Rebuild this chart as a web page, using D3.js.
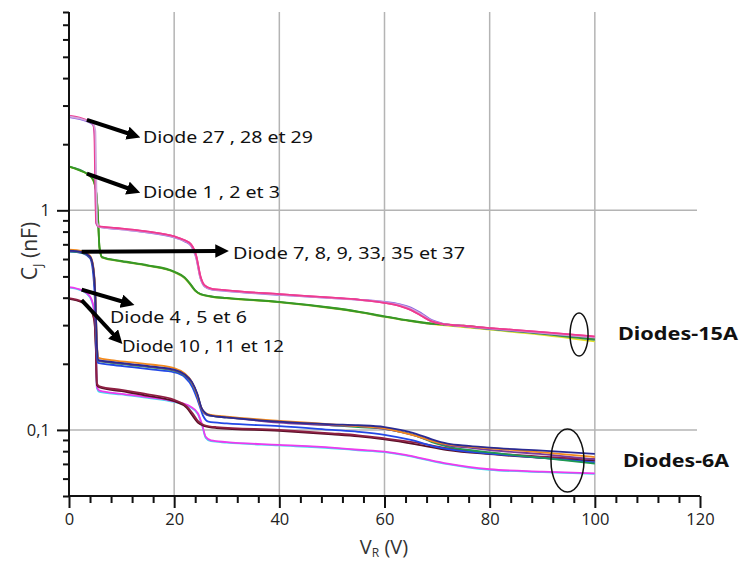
<!DOCTYPE html>
<html><head><meta charset="utf-8">
<script src="https://cdn.jsdelivr.net/npm/d3@7"></script>
<style>
html,body{margin:0;padding:0;background:#fff;}
svg{display:block;}
</style></head>
<body>
<svg id="chart" width="740" height="564"></svg>
<script>
// ---------- DATA (V_R in volts, C_J in nF) ----------
const xTicks = [0, 20, 40, 60, 80, 100, 120];
const yLabelTicks = [1, 0.1];
const yTickText = ["1", "0,1"];

// Diodes-15A
const d27 = [[0,2.70],[2,2.64],[3.6,2.56],[4.5,2.50],[4.8,2.3],[5.0,1.3],[5.15,0.88],[5.6,0.845],[10,0.825],[15,0.80],[20,0.76],[22,0.73],[23.2,0.70],[24.2,0.62],[25,0.50],[25.8,0.455],[27,0.44],[30,0.432],[40,0.415],[50,0.40],[55,0.392],[60,0.379],[63,0.366],[65,0.352],[67,0.331],[69,0.312],[71,0.304],[75,0.298],[80,0.291],[90,0.279],[100,0.266]];
const d28 = [[0,2.68],[2,2.62],[3.6,2.55],[4.6,2.48],[5.0,2.3],[5.2,1.3],[5.35,0.88],[5.8,0.84],[10,0.82],[15,0.795],[20,0.755],[22,0.725],[23.2,0.695],[24.2,0.61],[25,0.49],[25.8,0.452],[27,0.438],[30,0.43],[40,0.413],[50,0.398],[55,0.391],[60,0.381],[63,0.37],[65,0.357],[67,0.336],[69,0.314],[71,0.304],[75,0.297],[80,0.29],[90,0.277],[100,0.264]];
const d29 = [[0,2.66],[3.6,2.53],[4.6,2.45],[4.9,2.2],[5.05,1.2],[5.2,0.87],[5.7,0.84],[10,0.818],[15,0.792],[20,0.752],[22,0.722],[23.2,0.69],[24.2,0.605],[25,0.49],[25.8,0.45],[27,0.437],[30,0.429],[40,0.412],[50,0.398],[55,0.392],[60,0.383],[63,0.373],[65,0.361],[67,0.34],[69,0.316],[71,0.305],[75,0.297],[80,0.289],[90,0.276],[100,0.263]];
const d1 = [[0,1.585],[2,1.52],[3.6,1.46],[4.6,1.38],[5.2,1.2],[5.5,0.95],[5.8,0.68],[6.3,0.613],[10,0.588],[15,0.562],[20,0.526],[22,0.495],[23,0.465],[24,0.432],[25,0.416],[27,0.406],[30,0.399],[40,0.383],[50,0.36],[55,0.346],[60,0.329],[64,0.317],[68,0.307],[71,0.303],[75,0.298],[80,0.29],[90,0.276],[100,0.26]];
const d2 = [[0,1.575],[3.6,1.45],[4.6,1.37],[5.2,1.19],[5.5,0.94],[5.8,0.67],[6.3,0.608],[10,0.584],[15,0.558],[20,0.522],[22,0.49],[23,0.46],[24,0.43],[25,0.414],[27,0.404],[30,0.397],[40,0.381],[50,0.358],[55,0.344],[60,0.327],[64,0.315],[68,0.305],[71,0.3],[75,0.294],[80,0.286],[90,0.271],[100,0.253]];
const d3s = [[0,1.58],[3.6,1.455],[4.6,1.375],[5.2,1.19],[5.5,0.94],[5.8,0.675],[6.3,0.61],[10,0.586],[15,0.56],[20,0.524],[22,0.492],[23,0.462],[24,0.431],[25,0.415],[27,0.405],[30,0.398],[40,0.382],[50,0.359],[55,0.345],[60,0.328],[64,0.316],[68,0.306],[71,0.302],[75,0.296],[80,0.288],[90,0.274],[100,0.257]];

// Diodes-6A
const d7 = [[0,0.662],[2.5,0.652],[4,0.62],[4.6,0.56],[5.0,0.42],[5.3,0.25],[5.6,0.213],[8,0.208],[12,0.203],[16,0.198],[20,0.191],[22,0.181],[23.2,0.168],[24.2,0.149],[25,0.129],[25.8,0.12],[27,0.117],[30,0.115],[40,0.11],[50,0.106],[55,0.104],[60,0.1015],[63,0.098],[66,0.094],[69,0.089],[72,0.086],[76,0.084],[80,0.0825],[90,0.079],[100,0.0752]];
const d8 = [[0,0.655],[2.5,0.645],[4,0.615],[4.6,0.55],[5.0,0.41],[5.3,0.245],[5.6,0.208],[8,0.204],[12,0.199],[16,0.194],[20,0.188],[22,0.179],[23.4,0.165],[24.4,0.146],[25.2,0.126],[26,0.119],[27,0.116],[30,0.114],[40,0.109],[50,0.106],[55,0.105],[60,0.103],[63,0.1],[66,0.096],[69,0.0905],[72,0.0865],[76,0.0845],[80,0.083],[90,0.0805],[100,0.0778]];
const d9 = [[0,0.65],[2.5,0.64],[4,0.61],[4.6,0.545],[5.0,0.41],[5.3,0.245],[5.6,0.206],[8,0.202],[12,0.197],[16,0.192],[20,0.186],[22,0.177],[23.4,0.163],[24.4,0.144],[25.2,0.125],[26,0.118],[27,0.116],[30,0.114],[40,0.109],[50,0.105],[55,0.103],[60,0.1012],[63,0.098],[66,0.094],[69,0.088],[72,0.084],[76,0.081],[80,0.079],[90,0.0745],[100,0.0702]];
const d33 = [[0,0.648],[2.5,0.638],[4,0.605],[4.5,0.54],[4.9,0.4],[5.2,0.24],[5.5,0.202],[8,0.198],[12,0.193],[16,0.188],[20,0.183],[22,0.174],[23.5,0.156],[24.5,0.136],[25.5,0.116],[26.5,0.109],[30,0.107],[40,0.104],[50,0.1],[55,0.098],[60,0.095],[65,0.09],[70,0.0835],[75,0.08],[80,0.078],[90,0.0745],[100,0.0712]];
const d35 = [[0,0.653],[2.5,0.643],[4,0.612],[4.6,0.55],[5.0,0.41],[5.3,0.245],[5.6,0.207],[8,0.203],[12,0.198],[16,0.193],[20,0.187],[22,0.178],[23.4,0.164],[24.4,0.145],[25.2,0.125],[26,0.118],[27,0.116],[30,0.114],[40,0.108],[50,0.105],[55,0.104],[60,0.101],[63,0.098],[66,0.094],[69,0.089],[72,0.085],[76,0.083],[80,0.081],[90,0.0775],[100,0.0735]];
const d4 = [[0,0.447],[2.5,0.432],[4,0.405],[4.8,0.35],[5.1,0.25],[5.3,0.157],[5.8,0.151],[10,0.146],[15,0.141],[20,0.135],[23,0.128],[24.5,0.119],[25.3,0.106],[26,0.093],[27,0.0895],[30,0.088],[40,0.0855],[50,0.083],[55,0.0812],[60,0.0796],[64,0.077],[68,0.0734],[72,0.0702],[76,0.0678],[80,0.0662],[90,0.0646],[100,0.0634]];
const d5 = [[0,0.445],[2.5,0.43],[4,0.402],[4.8,0.345],[5.1,0.245],[5.3,0.155],[5.8,0.149],[10,0.145],[15,0.14],[20,0.134],[23,0.127],[24.5,0.118],[25.3,0.105],[26,0.092],[27,0.0888],[30,0.0875],[40,0.085],[50,0.0825],[55,0.0808],[60,0.0792],[64,0.0766],[68,0.073],[72,0.0698],[76,0.0674],[80,0.0658],[90,0.0642],[100,0.063]];
const d10 = [[0,0.398],[2.5,0.384],[4,0.36],[4.8,0.32],[5.1,0.24],[5.3,0.163],[5.8,0.158],[10,0.152],[15,0.145],[20,0.137],[22.4,0.128],[23.5,0.119],[24.5,0.11],[25.8,0.105],[28,0.103],[40,0.1],[50,0.0965],[55,0.0945],[60,0.0915],[66,0.0875],[72,0.0825],[80,0.0785],[90,0.0755],[100,0.0735]];
const d11 = [[0,0.395],[2.5,0.38],[4,0.356],[4.8,0.315],[5.1,0.235],[5.3,0.16],[5.8,0.156],[10,0.15],[15,0.143],[20,0.135],[22.4,0.126],[23.5,0.116],[24.5,0.108],[25.8,0.104],[28,0.102],[40,0.099],[50,0.0955],[55,0.0935],[60,0.0905],[66,0.086],[72,0.081],[80,0.0775],[90,0.0745],[100,0.0722]];

// ---------- STYLES ----------
const series = [
  {data: d2, color: "#e6e22a"},
  {data: d3s, color: "#2f8a6a"},
  {data: d1, color: "#3a9a1e"},
  {data: d29, color: "#8a62e0"},
  {data: d27, color: "#ee3a90"},
  {data: d28, color: "#d2a6dc"},
  {data: d5, color: "#40dff0"},
  {data: d4, color: "#ee3aee"},
  {data: d11, color: "#5a1028"},
  {data: d10, color: "#8e1f42"},
  {data: d33, color: "#2348e6"},
  {data: d9, color: "#1e9a52"},
  {data: d35, color: "#7a3a9a"},
  {data: d7, color: "#f28a1e"},
  {data: d8, color: "#2a2a92"}
];

const svg = d3.select("#chart");
const x = d3.scaleLinear().domain([0, 120]).range([69, 700]);
const y = d3.scaleLog().domain([0.05, 8]).range([496, 12]);

// grid
const grid = svg.append("g");
grid.selectAll("line.v").data([20, 40, 60, 80, 100]).join("line")
  .attr("x1", d => x(d)).attr("x2", d => x(d))
  .attr("y1", y(8)).attr("y2", y(0.05))
  .attr("stroke", "#b4b4b4").attr("stroke-width", 1.5);
grid.selectAll("line.h").data(yLabelTicks).join("line")
  .attr("x1", x(0)).attr("x2", 697)
  .attr("y1", d => y(d)).attr("y2", d => y(d))
  .attr("stroke", "#b4b4b4").attr("stroke-width", 1.5);

// curves
const line = d3.line().x(d => x(d[0])).y(d => y(d[1])).curve(d3.curveMonotoneX);
svg.append("g").selectAll("path").data(series).join("path")
  .attr("d", d => line(d.data))
  .attr("fill", "none").attr("stroke", d => d.color).attr("stroke-width", 1.8)
  .attr("stroke-linejoin", "round");
// pink over lavender except the vertical drop
svg.append("path").attr("d", line(d27.filter(p => p[0] >= 5.6)))
  .attr("fill", "none").attr("stroke", "#ee3a90").attr("stroke-width", 1.8);

// axes
const fontTick = "'Open Sans', 'Noto Sans', sans-serif";
const minorY = [];
for (const dec of [0.01, 0.1, 1]) for (let k = 1; k <= 9; k++) { const v = +(k * dec).toPrecision(3); if (v >= 0.05 && v <= 8 && v !== 1 && v !== 0.1) minorY.push(v); }
const yMinor = svg.append("g").attr("transform", `translate(${x(0)},0)`)
  .call(d3.axisLeft(y).tickValues(minorY).tickSize(6).tickFormat(""));
const yMajor = svg.append("g").attr("transform", `translate(${x(0)},0)`)
  .call(d3.axisLeft(y).tickValues(yLabelTicks).tickSize(12).tickPadding(7)
    .tickFormat((d, i) => yTickText[i]));
const xMinor = d3.range(0, 121, 4).filter(v => v % 20 !== 0);
const xMin = svg.append("g").attr("transform", `translate(0,${y(0.05)})`)
  .call(d3.axisBottom(x).tickValues(xMinor).tickSize(7).tickFormat(""));
const xMaj = svg.append("g").attr("transform", `translate(0,${y(0.05)})`)
  .call(d3.axisBottom(x).tickValues(xTicks).tickSize(12).tickPadding(5).tickFormat(d3.format("d")));
[yMinor, yMajor, xMin, xMaj].forEach(g => {
  g.select(".domain").attr("stroke", "#111").attr("stroke-width", 2);
  g.selectAll(".tick line").attr("stroke", "#111").attr("stroke-width", 2);
  g.selectAll("text").attr("font-family", fontTick).attr("font-size", 16.5).attr("fill", "#222");
});
yMinor.select(".domain").attr("d", `M0,${y(8)}V${y(0.05)}`);
yMajor.select(".domain").remove();
xMin.select(".domain").attr("d", `M${x(0)},0H${x(120)}`);
xMaj.select(".domain").remove();

// axis titles
const yt = svg.append("text").attr("transform", "translate(37,251) rotate(-90)")
  .attr("text-anchor", "middle").attr("font-family", fontTick).attr("font-size", 21).attr("fill", "#333");
yt.append("tspan").text("C");
yt.append("tspan").attr("font-size", 13).attr("dy", 5).text("J");
yt.append("tspan").attr("dy", -5).text(" (nF)");
const xt = svg.append("text").attr("x", 384).attr("y", 554)
  .attr("text-anchor", "middle").attr("font-family", fontTick).attr("font-size", 20).attr("fill", "#333");
xt.append("tspan").text("V");
xt.append("tspan").attr("font-size", 12).attr("dy", 3).text("R");
xt.append("tspan").attr("dy", -3).text(" (V)");

// annotations
const annFont = "'Noto Sans', 'Open Sans', sans-serif";
const defs = svg.append("defs");
defs.append("marker").attr("id", "ah").attr("viewBox", "0 0 10 10").attr("refX", 2).attr("refY", 5)
  .attr("markerWidth", 3.4).attr("markerHeight", 3.4).attr("orient", "auto").attr("markerUnits", "strokeWidth")
  .append("path").attr("d", "M0,0L10,5L0,10Z").attr("fill", "#000");
const arrows = [
  {v0: [3.4, 2.58], p1: [130, 134], label: "Diode 27 , 28 et 29", tx: 143, ty: 143, w: 170},
  {v0: [3.4, 1.47], p1: [130, 189], label: "Diode 1 , 2 et 3", tx: 143, ty: 198, w: 137},
  {v0: [2.4, 0.648], p1: [218, 251], label: "Diode 7, 8, 9, 33, 35 et 37", tx: 233, ty: 259, w: 232},
  {v0: [2.4, 0.435], p1: [124, 302], label: "Diode 4 , 5 et 6", tx: 110, ty: 323, w: 137},
  {v0: [2.4, 0.39], p1: [115, 336], label: "Diode 10 , 11 et 12", tx: 122, ty: 352, w: 162}
];
const ag = svg.append("g");
arrows.forEach(a => {
  ag.append("line").attr("x1", x(a.v0[0])).attr("y1", y(a.v0[1])).attr("x2", a.p1[0]).attr("y2", a.p1[1])
    .attr("stroke", "#000").attr("stroke-width", 4).attr("marker-end", "url(#ah)");
  ag.append("text").attr("x", a.tx).attr("y", a.ty).attr("font-family", annFont).attr("font-size", 16.5)
    .attr("textLength", a.w).attr("lengthAdjust", "spacingAndGlyphs").attr("fill", "#111").text(a.label);
});

// ellipses and group labels
const groups = [
  {cx: 97, cy: 0.272, rx: 9, ry: 21.5, label: "Diodes-15A", tx: 618, w: 120},
  {cx: 94.8, cy: 0.0725, rx: 16.5, ry: 31.5, label: "Diodes-6A", tx: 623, w: 106}
];
groups.forEach(g => {
  svg.append("ellipse").attr("cx", x(g.cx)).attr("cy", y(g.cy)).attr("rx", g.rx).attr("ry", g.ry)
    .attr("fill", "none").attr("stroke", "#111").attr("stroke-width", 1.5);
  svg.append("text").attr("x", g.tx).attr("y", y(g.cy) + 6).attr("font-family", annFont)
    .attr("font-weight", "bold").attr("font-size", 17.5).attr("textLength", g.w)
    .attr("lengthAdjust", "spacingAndGlyphs").attr("fill", "#111").text(g.label);
});
</script>
</body></html>
